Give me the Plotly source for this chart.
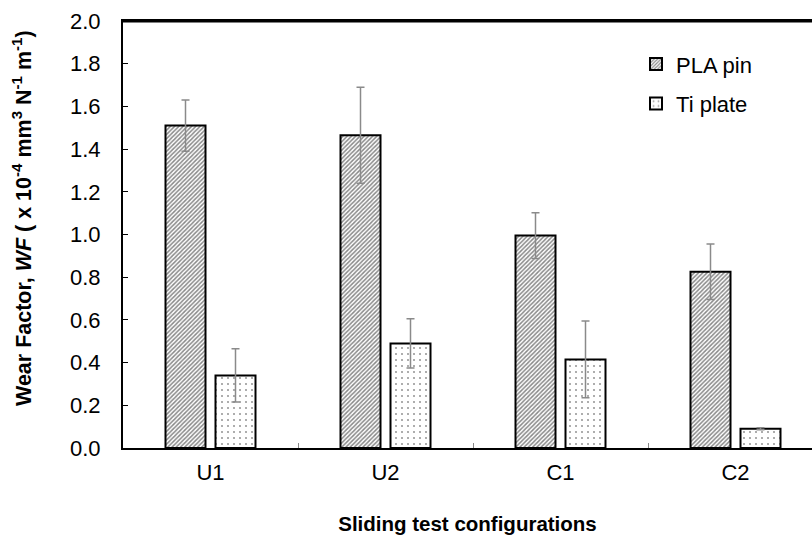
import plotly.graph_objects as go

categories = ["U1", "U2", "C1", "C2"]
pla_pin = [1.51, 1.465, 0.995, 0.825]
pla_err = [0.12, 0.225, 0.107, 0.13]
ti_plate = [0.34, 0.49, 0.415, 0.09]
ti_err = [0.125, 0.115, 0.18, 0.005]
y_ticks = [0.0, 0.2, 0.4, 0.6, 0.8, 1.0, 1.2, 1.4, 1.6, 1.8, 2.0]

FONT = "Liberation Sans, Arial, sans-serif"

fig = go.Figure()
fig.add_trace(go.Bar(
    name="PLA pin", x=categories, y=pla_pin, legendgroup="a",
    marker=dict(color="white", line=dict(color="black", width=2),
                pattern=dict(shape="/", fgcolor="#111111", bgcolor="white", size=3, solidity=0.5)),
    error_y=dict(type="data", array=pla_err, color="#8a8a8a", thickness=1.5, width=4),
))
fig.add_trace(go.Bar(
    name="Ti plate", x=categories, y=ti_plate, legendgroup="b",
    marker=dict(color="white", line=dict(color="black", width=2),
                pattern=dict(shape=".", fgcolor="#333333", bgcolor="white", size=6, solidity=0.1)),
    error_y=dict(type="data", array=ti_err, color="#8a8a8a", thickness=1.5, width=4),
))

fig.update_layout(
    width=812, height=538,
    margin=dict(l=123, r=0, t=21, b=90),
    paper_bgcolor="white", plot_bgcolor="white",
    font=dict(family=FONT, color="black", size=20),
    barmode="group", bargap=0.4286, bargroupgap=0.2,
    showlegend=True,
    legend=dict(x=0.7446, y=0.948, xanchor="left", yanchor="top",
                font=dict(size=22, family=FONT), bgcolor="rgba(0,0,0,0)",
                traceorder="grouped", tracegroupgap=8),
    xaxis=dict(
        range=[-0.5, 3.5 - 11 / 175], showline=True, linecolor="black", linewidth=2,
        mirror=True, ticks="inside", tickson="boundaries", ticklen=5, tickcolor="#888888",
        showgrid=False, tickfont=dict(size=22), ticklabelstandoff=4,
        title=dict(text="<b>Sliding test configurations</b>", font=dict(size=20.5), standoff=32),
    ),
    yaxis=dict(
        range=[0, 2.0], tickvals=y_ticks, ticktext=[f"{v:.1f}" for v in y_ticks],
        showline=True, linecolor="black", linewidth=2, ticks="inside", ticklen=5,
        tickcolor="black", showgrid=False, zeroline=False, tickfont=dict(size=22),
        ticklabelstandoff=16,
    ),
    shapes=[dict(type="line", xref="paper", yref="paper", x0=0, x1=1, y0=1.0, y1=1.0,
                 layer="above", line=dict(color="black", width=3))],
    annotations=[dict(
        text="<b>Wear Factor, <i>WF</i> ( x 10<sup>-4</sup> mm<sup>3</sup> N<sup>-1</sup> m<sup>-1</sup>)</b>",
        xref="paper", yref="paper", x=(22 - 123) / 689, y=(448 - 218) / 427,
        xanchor="center", yanchor="middle", textangle=-90, showarrow=False,
        font=dict(size=21.5, family=FONT, color="black"),
    )],
)

fig.write_html("out.html")
